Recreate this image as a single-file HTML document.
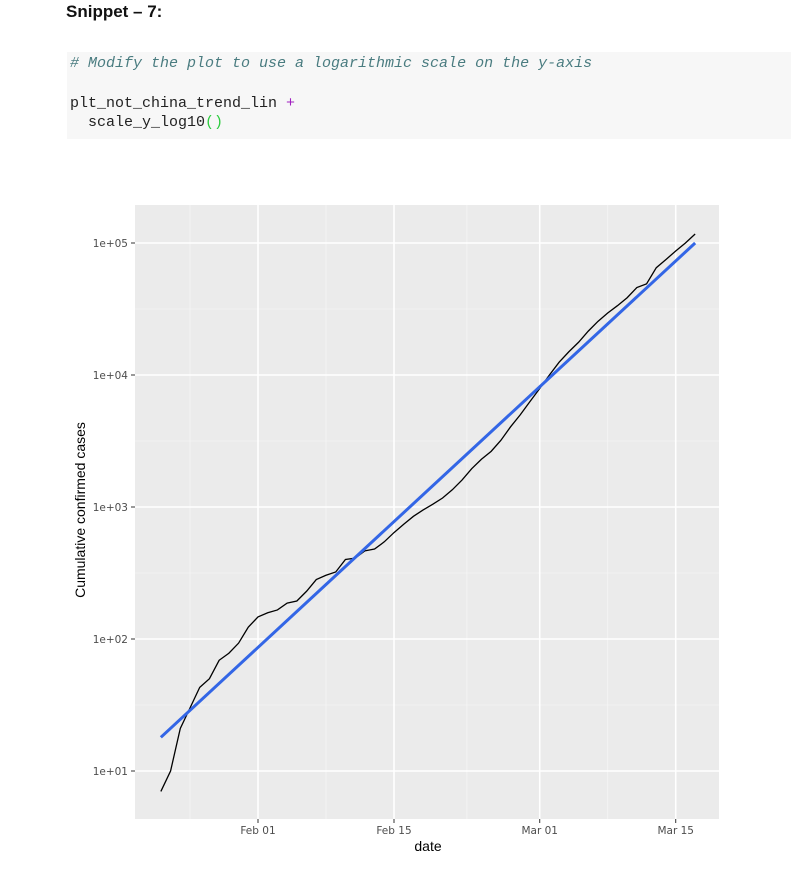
<!DOCTYPE html>
<html><head><meta charset="utf-8"><style>
body{margin:0;background:#fff;width:791px;height:869px;overflow:hidden;font-family:"Liberation Sans",sans-serif;}
#title{position:absolute;left:66px;top:2px;font-weight:bold;font-size:17px;color:#111;}
#code{position:absolute;left:67px;top:52px;width:724px;height:87px;background:#f7f7f7;font-family:"Liberation Mono","DejaVu Sans Mono",monospace;font-size:15px;color:#222;}
#code div{position:absolute;left:3px;white-space:pre;}
</style></head><body>
<div id="title">Snippet – 7:</div>
<div id="code">
<div style="top:3px;font-style:italic;color:#4a7c80"># Modify the plot to use a logarithmic scale on the y-axis</div>
<div style="top:43px">plt_not_china_trend_lin <span style="color:#a020c0">+</span></div>
<div style="top:62px">  scale_y_log10<span style="color:#2ecc40">()</span></div>
</div>
<svg id="chart" width="791" height="869" style="position:absolute;left:0;top:0"></svg>
<script>
const days=[-10,-9,-8,-7,-6,-5,-4,-3,-2,-1,0,1,2,3,4,5,6,7,8,9,10,11,12,13,14,15,16,17,18,19,20,21,22,23,24,25,26,27,28,29,30,31,32,33,34,35,36,37,38,39,40,41,42,43,44,45];
const cases=[7,10,21,30,43,50,69,78,93,123,147,158,166,187,194,230,282,304,322,400,410,465,480,545,640,740,850,950,1050,1170,1350,1600,1950,2300,2640,3200,4050,5000,6300,7900,10000,12500,15000,17700,21500,25500,29500,33500,38500,46000,49000,65000,75000,87000,100000,117000];
const fitDays=[-10,45];
const fitValues=[18,100000];
const xTickDays=[0,14,29,43];
const xTickLabels=["Feb 01","Feb 15","Mar 01","Mar 15"];
const yTicks=[10,100,1000,10000,100000];
const yTickLabels=["1e+01","1e+02","1e+03","1e+04","1e+05"];

const P={l:135,r:719,t:205,b:819};
const xs=d=>258+d*(136/14);
const ys=v=>771-(Math.log10(v)-1)*132;
const svg=document.getElementById('chart');
const NS='http://www.w3.org/2000/svg';
function mk(t,a){const e=document.createElementNS(NS,t);for(const k in a)e.setAttribute(k,a[k]);svg.appendChild(e);return e;}
let e=mk('rect',{x:P.l,y:P.t,width:P.r-P.l,height:P.b-P.t,fill:'#ebebeb'});


// minor grid
for(let i=0;i<xTickDays.length+1;i++){
  const d=(i===0?xTickDays[0]-7:(xTickDays[i-1]+(i<xTickDays.length?xTickDays[i]:xTickDays[i-1]+14))/2);
  const x=xs(d); if(x<P.l||x>P.r)continue;
  e=mk('line',{x1:x,x2:x,y1:P.t,y2:P.b,stroke:'#f5f5f5','stroke-width':0.8});
  
  
}
for(let k=0;k<=5;k++){const y=ys(Math.pow(10,k+0.5));if(y<P.t||y>P.b)continue;
  e=mk('line',{x1:P.l,x2:P.r,y1:y,y2:y,stroke:'#f5f5f5','stroke-width':0.8});
  
  
}
xTickDays.forEach((d,i)=>{const x=xs(d);
  e=mk('line',{x1:x,x2:x,y1:P.t,y2:P.b,stroke:'#fff','stroke-width':1.6});
  
  
  e=mk('line',{x1:x,x2:x,y1:P.b,y2:P.b+4,stroke:'#333','stroke-width':1});
  
  
  e=mk('text',{x:x,y:P.b+15,'text-anchor':'middle','font-size':10.5,fill:'#4d4d4d','font-family':'DejaVu Sans,sans-serif'});
  e.textContent=xTickLabels[i];
  
  
});
yTicks.forEach((v,i)=>{const y=ys(v);
  e=mk('line',{x1:P.l,x2:P.r,y1:y,y2:y,stroke:'#fff','stroke-width':1.6});
  
  
  e=mk('line',{x1:P.l-4,x2:P.l,y1:y,y2:y,stroke:'#333','stroke-width':1});
  
  
  e=mk('text',{x:P.l-7,y:y+4,'text-anchor':'end','font-size':10.5,fill:'#4d4d4d','font-family':'DejaVu Sans,sans-serif'});
  e.textContent=yTickLabels[i];
  
  
});
e=mk('polyline',{points:days.map((d,i)=>xs(d)+','+ys(cases[i])).join(' '),fill:'none',stroke:'#000','stroke-width':1.3});


e=mk('line',{x1:xs(fitDays[0]),y1:ys(fitValues[0]),x2:xs(fitDays[1]),y2:ys(fitValues[1]),stroke:'#3366e6','stroke-width':3});


e=mk('text',{x:428,y:851,'text-anchor':'middle','font-size':14,fill:'#000'});
e.textContent='date';


e=mk('text',{x:0,y:0,'text-anchor':'middle','font-size':14,fill:'#000',transform:'translate(85,510) rotate(-90)'});
e.textContent='Cumulative confirmed cases';


</script>
</body></html>
